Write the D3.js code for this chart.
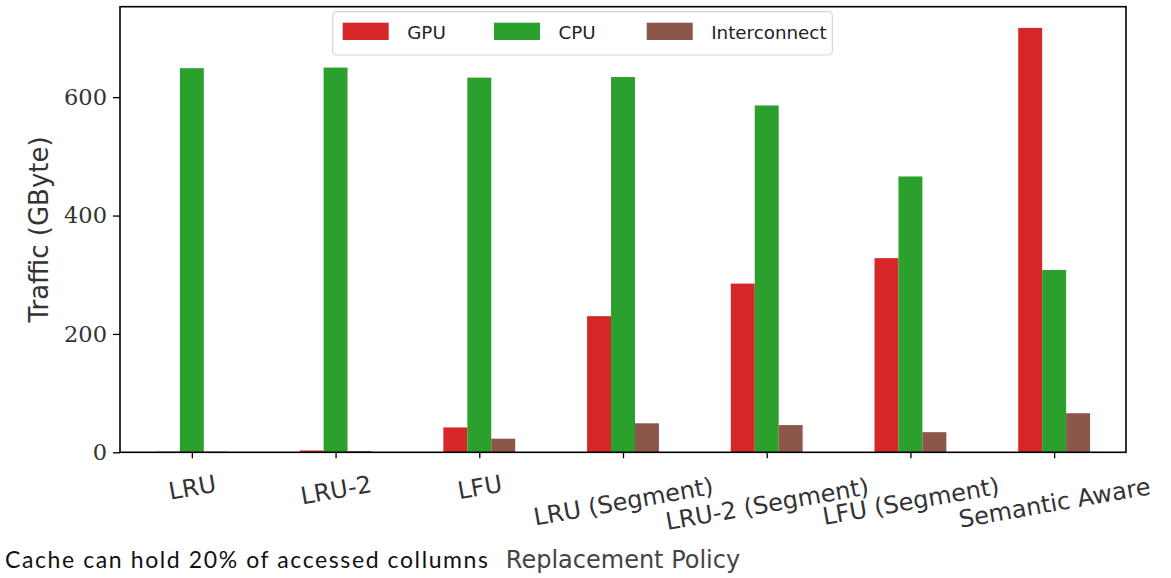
<!DOCTYPE html>
<html>
<head>
<meta charset="utf-8">
<script src="https://cdn.jsdelivr.net/npm/d3@7"></script>
<style>
  body { margin: 0; background: #fff; }
  svg { display: block; }
</style>
</head>
<body>
<div id="chart"></div>
<script>
// chart data
const categories = ["LRU", "LRU-2", "LFU", "LRU (Segment)", "LRU-2 (Segment)", "LFU (Segment)", "Semantic Aware"];
const gpuTraffic = [1, 3, 42, 230, 285, 328, 717];
const cpuTraffic = [649, 650, 633, 634, 586, 466, 308];
const interconnectTraffic = [1, 2, 23, 49, 46, 34, 66];
const seriesNames = ["GPU", "CPU", "Interconnect"];
const seriesColors = ["#d62728", "#2ca02c", "#8c564b"];
const yTicks = [0, 200, 400, 600];

const series = [gpuTraffic, cpuTraffic, interconnectTraffic];

const width = 1171, height = 578;
const plotLeft = 120, plotRight = 1126, plotTop = 6.7, plotBottom = 452.3;

const svg = d3.select("#chart")
    .append("svg")
    .attr("width", width)
    .attr("height", height);

const x = d3.scaleLinear()
    .domain([-0.5, categories.length - 0.5])
    .range([plotLeft, plotRight]);

const yMax = d3.max(series.flat()) * 1.05;
const y = d3.scaleLinear()
    .domain([0, yMax])
    .range([plotBottom, plotTop]);

const barW = x(1 / 6) - x(0);

// bars, three per category
series.forEach((vals, j) => {
    svg.append("g")
        .selectAll("rect")
        .data(vals)
        .enter()
        .append("rect")
        .attr("x", (d, i) => x(i + (j - 1) / 6) - barW / 2)
        .attr("y", d => y(d))
        .attr("width", barW)
        .attr("height", d => y(0) - y(d))
        .attr("fill", seriesColors[j]);
});

// frame
svg.append("rect")
    .attr("x", plotLeft)
    .attr("y", plotTop)
    .attr("width", plotRight - plotLeft)
    .attr("height", plotBottom - plotTop)
    .attr("fill", "none")
    .attr("stroke", "#000")
    .attr("stroke-width", 1.6);

// y axis
const yAxis = svg.append("g")
    .attr("transform", `translate(${plotLeft},0)`)
    .call(d3.axisLeft(y).tickValues(yTicks).tickSize(7).tickPadding(6));
yAxis.select(".domain").remove();
yAxis.selectAll("line").attr("stroke", "#000").attr("stroke-width", 1.3);
yAxis.selectAll("text")
    .attr("fill", "#333")
    .style("font-family", "'DejaVu Serif', serif")
    .style("font-size", "22.5px");

// x axis
const xAxis = svg.append("g")
    .attr("transform", `translate(0,${plotBottom})`)
    .call(d3.axisBottom(x)
        .tickValues(d3.range(categories.length))
        .tickFormat(i => categories[i])
        .tickSize(6));
xAxis.select(".domain").remove();
xAxis.selectAll("line").attr("stroke", "#000").attr("stroke-width", 1.3);

// rotate tick labels like matplotlib (rotation=10, ha=center, va=top)
const rot = 10 * Math.PI / 180;
xAxis.selectAll(".tick text")
    .attr("fill", "#333")
    .style("font-family", "'DejaVu Sans', sans-serif")
    .style("font-size", "24px")
    .attr("dy", null)
    .attr("y", 0)
    .each(function () {
        const t = d3.select(this);
        const bb = this.getBBox();
        const cy = bb.y + bb.height / 2;
        const H = bb.width * Math.sin(rot) + bb.height * Math.cos(rot);
        t.attr("y", -cy)
         .attr("transform", `translate(0,${14 + H * 0.6}) rotate(-10)`);
    });

// axis labels
svg.append("text")
    .attr("transform", `translate(48,${(plotTop + plotBottom) / 2}) rotate(-90)`)
    .attr("text-anchor", "middle")
    .attr("fill", "#333")
    .style("font-family", "'DejaVu Sans', sans-serif")
    .style("font-size", "26px")
    .text("Traffic (GByte)");

svg.append("text")
    .attr("x", (plotLeft + plotRight) / 2)
    .attr("y", 568)
    .attr("text-anchor", "middle")
    .attr("fill", "#444")
    .style("font-family", "'DejaVu Sans', sans-serif")
    .style("font-size", "24px")
    .text("Replacement Policy");

// caption
svg.append("text")
    .attr("x", 5)
    .attr("y", 568)
    .attr("fill", "#111")
    .attr("textLength", 483)
    .attr("lengthAdjust", "spacing")
    .style("font-family", "Lato, sans-serif")
    .style("font-size", "23px")
    .text("Cache can hold 20% of accessed collumns");

// legend
const legend = svg.append("g");
legend.append("rect")
    .attr("x", 332.7)
    .attr("y", 11.7)
    .attr("width", 499.6)
    .attr("height", 43.3)
    .attr("rx", 4)
    .attr("fill", "#fff")
    .attr("fill-opacity", 0.8)
    .attr("stroke", "#d6d6d6")
    .attr("stroke-width", 1.2);

const legendX = [342.7, 494, 646.7];
seriesNames.forEach((name, j) => {
    legend.append("rect")
        .attr("x", legendX[j])
        .attr("y", 22.7)
        .attr("width", 46)
        .attr("height", 17.3)
        .attr("fill", seriesColors[j]);
    legend.append("text")
        .attr("x", legendX[j] + 64.5)
        .attr("y", 39.3)
        .attr("fill", "#222")
        .style("font-family", "'DejaVu Sans', sans-serif")
        .style("font-size", "18.3px")
        .text(name);
});
</script>
</body>
</html>
